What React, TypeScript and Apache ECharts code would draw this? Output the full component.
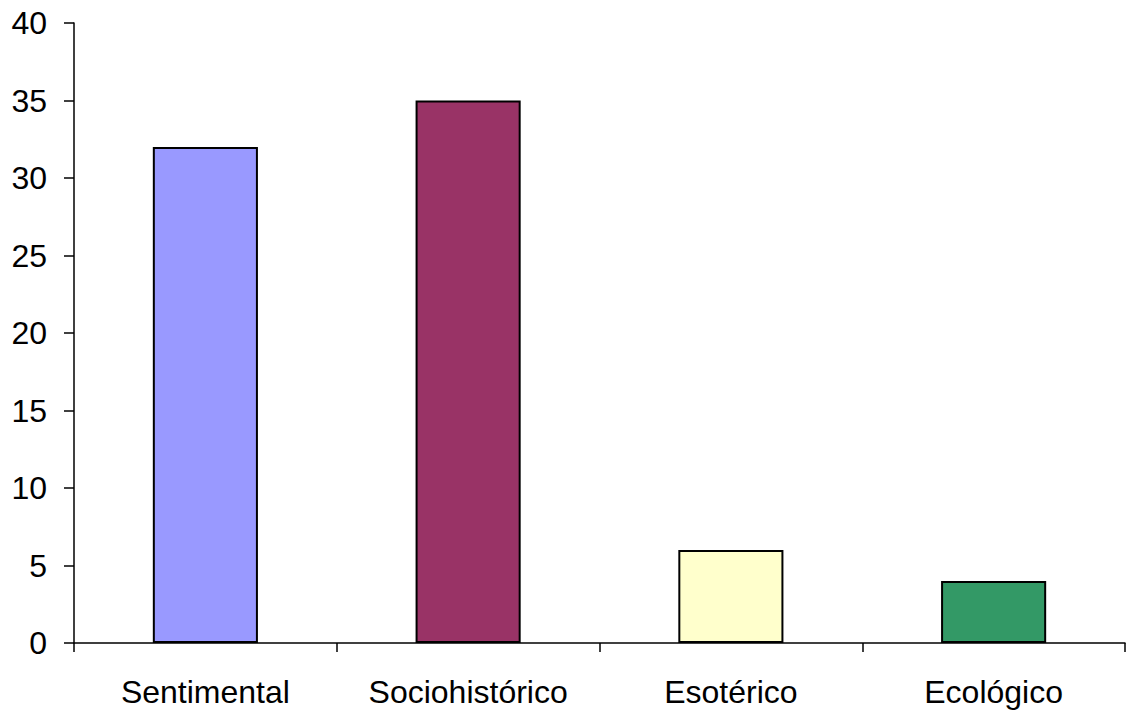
import React, { useEffect, useRef } from "react";
import * as echarts from "echarts";

const categories = ["Sentimental", "Sociohistórico", "Esotérico", "Ecológico"];
const values = [32, 35, 6, 4];
const barColors = ["#9999FF", "#993366", "#FFFFCC", "#339966"];
const yTicks = { min: 0, max: 40, interval: 5 };

export default function App() {
  const ref = useRef<HTMLDivElement>(null);
  useEffect(() => {
    if (!ref.current) return;
    const chart = echarts.init(ref.current, null, { renderer: "svg" });
    chart.setOption({
      animation: false,
      backgroundColor: "#ffffff",
      grid: { left: 74, right: 1, top: 23, bottom: 72, containLabel: false },
      xAxis: {
        type: "category",
        data: categories,
        axisLine: { lineStyle: { color: "#000", width: 1.5 } },
        axisTick: { show: true, length: 9, lineStyle: { color: "#000", width: 1.5 } },
        axisLabel: {
          margin: 33,
          color: "#000",
          fontSize: 32,
          fontFamily: "Liberation Sans, Arial, sans-serif",
        },
      },
      yAxis: {
        type: "value",
        min: yTicks.min,
        max: yTicks.max,
        interval: yTicks.interval,
        splitLine: { show: false },
        axisLine: { show: true, lineStyle: { color: "#000", width: 1.5 } },
        axisTick: { show: true, length: 10, lineStyle: { color: "#000", width: 1.5 } },
        axisLabel: {
          margin: 27,
          color: "#000",
          fontSize: 32,
          fontFamily: "Liberation Sans, Arial, sans-serif",
        },
      },
      series: [
        {
          type: "bar",
          barWidth: "40%",
          data: values.map((v, i) => ({
            value: v,
            itemStyle: { color: barColors[i], borderColor: "#000", borderWidth: 2 },
          })),
        },
      ],
    });
    return () => chart.dispose();
  }, []);
  return (
    <div
      ref={ref}
      style={{ position: "fixed", left: 0, top: 0, width: 1126, height: 715 }}
    />
  );
}
